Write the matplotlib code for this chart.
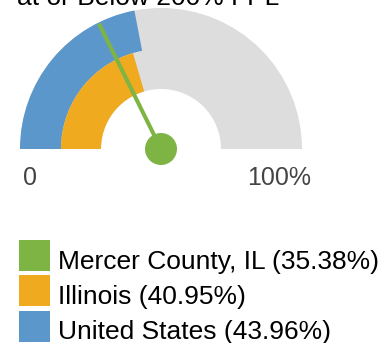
import matplotlib
matplotlib.use("Agg")
import matplotlib.pyplot as plt
from matplotlib.patches import Wedge, Circle, Rectangle
import numpy as np

plt.rcParams['font.family'] = ['Liberation Sans', 'DejaVu Sans']

# gauge values (percent at or below 200% FPL)
areas = ["Mercer County, IL", "Illinois", "United States"]
values = [35.38, 40.95, 43.96]
colors = ["#7db443", "#efaa1f", "#5b97cb"]
gauge_ticks = ["0", "100%"]

W, H = 386, 343
fig = plt.figure(figsize=(W / 100, H / 100), dpi=100)
ax = fig.add_axes([0, 0, 1, 1])
ax.set_xlim(0, W)
ax.set_ylim(0, H)
ax.axis("off")

def pct_angle(v):
    # 0% on the left, 100% on the right
    return 180 - 180 * v / 100.0

cx, cy = 161, H - 149
r_out, r_mid, r_in = 141, 100, 60

# background track
ax.add_patch(Wedge((cx, cy), r_out, 0, 180, width=r_out - r_in, color="#dddddd", lw=0))
# United States outer ring, Illinois inner ring
ax.add_patch(Wedge((cx, cy), r_out, pct_angle(values[2]), 180, width=r_out - r_mid, color=colors[2], lw=0))
ax.add_patch(Wedge((cx, cy), r_mid, pct_angle(values[1]), 180, width=r_mid - r_in, color=colors[1], lw=0))

# needle for the county
a = np.radians(pct_angle(values[0]))
ax.plot([cx, cx + 140 * np.cos(a)], [cy, cy + 140 * np.sin(a)], color=colors[0], lw=2.9, solid_capstyle="butt")
ax.add_patch(Circle((cx, cy), 16, color=colors[0], lw=0))

# scale labels
ax.text(30, H - 185, gauge_ticks[0], ha="center", va="baseline", fontsize=18, color="#444444")
ax.text(279.5, H - 185, gauge_ticks[1], ha="center", va="baseline", fontsize=18, color="#444444")

# title (second line, top clipped)
ax.text(17, H - 5, "at or Below 200% FPL", ha="left", va="baseline", fontsize=19, color="#000000")

# legend
for i, (name, v, c) in enumerate(zip(areas, values, colors)):
    top = 240 + i * 35.4
    ax.add_patch(Rectangle((19, H - top - 31), 31, 31, color=c, lw=0))
    ax.text(58, H - (268.5 + i * 35.3), f"{name} ({v:.2f}%)", ha="left", va="baseline", fontsize=19, color="#000000")

fig.savefig("out.png", dpi=100)
